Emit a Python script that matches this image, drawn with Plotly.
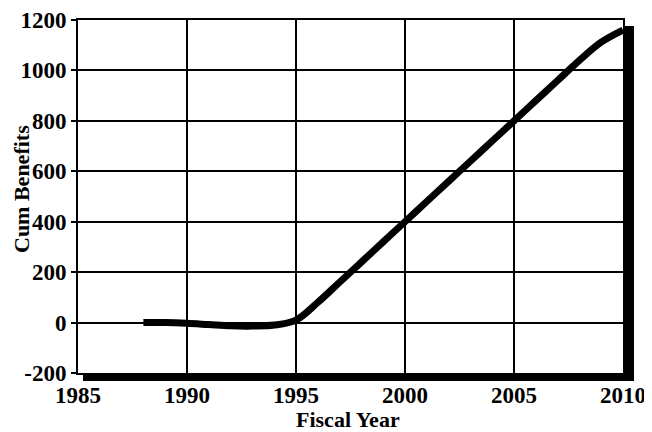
import plotly.graph_objects as go

years = [1988, 1989, 1990, 1991, 1992, 1993, 1994, 1995, 1996, 1997, 1998, 1999,
         2000, 2001, 2002, 2003, 2004, 2005, 2006, 2007, 2008, 2009, 2010]
cum_benefits = [0, 0, -3, -8, -13, -14, -10, 10, 80, 160, 240, 320,
                400, 480, 560, 640, 720, 800, 880, 960, 1040, 1112, 1160]
x_ticks = [1985, 1990, 1995, 2000, 2005, 2010]
y_ticks = [-200, 0, 200, 400, 600, 800, 1000, 1200]

FONT = "Liberation Serif, Times New Roman, serif"

fig = go.Figure()
fig.add_trace(go.Scatter(
    x=years, y=cum_benefits, mode="lines",
    line=dict(color="black", width=7, shape="spline", smoothing=1.0),
    hoverinfo="skip", showlegend=False,
))

pw, ph = 545.0, 353.0
fig.update_layout(
    width=644, height=424,
    margin=dict(l=70, r=29, t=12, b=59),
    paper_bgcolor="white", plot_bgcolor="white",
    font=dict(family=FONT, color="black", size=20, weight="bold"),
    xaxis=dict(
        range=[1985, 2010], tickvals=x_ticks, ticktext=[str(v) for v in x_ticks],
        showgrid=True, gridcolor="black", gridwidth=2,
        showline=True, linecolor="black", linewidth=2, mirror=True,
        ticks="", zeroline=False,
        tickfont=dict(family=FONT, size=23, weight="bold", color="black"),
        automargin=False,
    ),
    yaxis=dict(
        range=[-200, 1200], tickvals=y_ticks, ticktext=[str(v) for v in y_ticks],
        showgrid=True, gridcolor="black", gridwidth=2,
        showline=True, linecolor="black", linewidth=2, mirror=True,
        ticks="outside", ticklen=5, tickwidth=2, tickcolor="black",
        zeroline=False,
        tickfont=dict(family=FONT, size=23, weight="bold", color="black"),
        automargin=False,
    ),
    annotations=[
        dict(text="Cum Benefits", xref="paper", yref="paper", textangle=-90,
             x=-(78 - 21) / pw, y=(373 - 189) / ph,
             xanchor="center", yanchor="middle", showarrow=False,
             font=dict(family=FONT, size=22, weight="bold", color="black")),
        dict(text="Fiscal Year", xref="paper", yref="paper",
             x=(348 - 78) / pw, y=-(419 - 373) / ph,
             xanchor="center", yanchor="middle", showarrow=False,
             font=dict(family=FONT, size=22, weight="bold", color="black")),
    ],
    shapes=[
        dict(type="rect", xref="paper", yref="paper", layer="above",
             x0=1.0, x1=1.0 + 11 / pw, y0=-8 / ph, y1=1 - 6 / ph,
             fillcolor="black", line=dict(width=0)),
        dict(type="rect", xref="paper", yref="paper", layer="above",
             x0=5 / pw, x1=1.0 + 11 / pw, y0=-8 / ph, y1=0,
             fillcolor="black", line=dict(width=0)),
    ],
)

fig.write_html("out.html")
